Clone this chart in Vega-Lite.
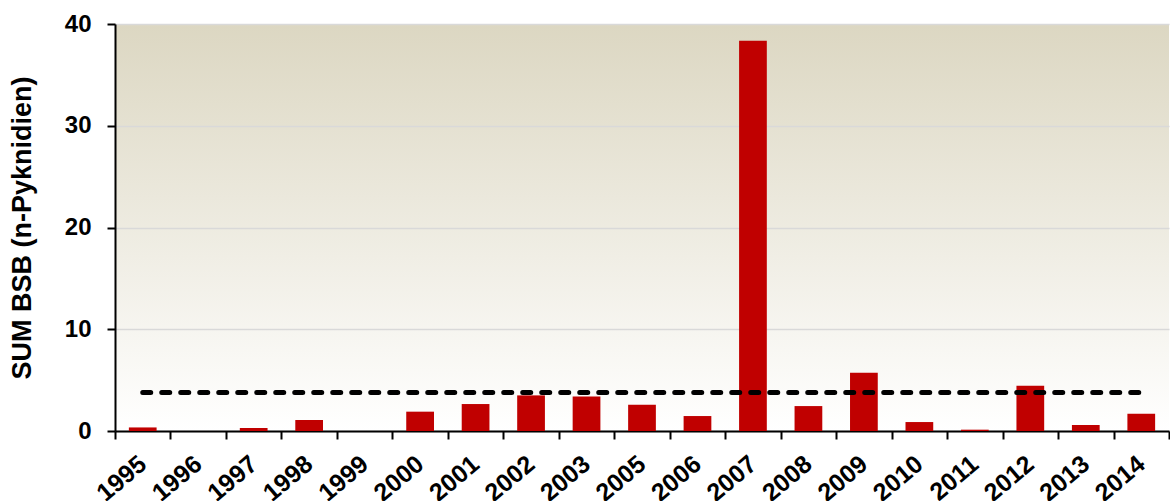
{
  "$schema": "https://vega.github.io/schema/vega-lite/v6.json",
  "autosize": "none",
  "width": 1054,
  "height": 407,
  "padding": {"left": 115, "top": 24, "right": 1, "bottom": 70},
  "background": "#FFFFFF",
  "view": {
    "stroke": null,
    "fill": {
      "gradient": "linear",
      "x1": 0, "y1": 0, "x2": 0, "y2": 1,
      "stops": [
        {"offset": 0, "color": "#DCD7C2"},
        {"offset": 1, "color": "#FFFFFF"}
      ]
    }
  },
  "data": {
    "values": [
      {"Jahr": "1995", "BSB": 0.35},
      {"Jahr": "1996", "BSB": 0},
      {"Jahr": "1997", "BSB": 0.3},
      {"Jahr": "1998", "BSB": 1.08},
      {"Jahr": "1999", "BSB": 0},
      {"Jahr": "2000", "BSB": 1.9},
      {"Jahr": "2001", "BSB": 2.65},
      {"Jahr": "2002", "BSB": 3.5},
      {"Jahr": "2003", "BSB": 3.4},
      {"Jahr": "2005", "BSB": 2.58},
      {"Jahr": "2006", "BSB": 1.47},
      {"Jahr": "2007", "BSB": 38.36},
      {"Jahr": "2008", "BSB": 2.45},
      {"Jahr": "2009", "BSB": 5.72},
      {"Jahr": "2010", "BSB": 0.88},
      {"Jahr": "2011", "BSB": 0.13},
      {"Jahr": "2012", "BSB": 4.44},
      {"Jahr": "2013", "BSB": 0.59},
      {"Jahr": "2014", "BSB": 1.7}
    ]
  },
  "layer": [
    {
      "mark": {"type": "bar", "color": "#C00000", "width": {"band": 0.5}},
      "encoding": {
        "x": {
          "field": "Jahr",
          "type": "nominal",
          "sort": null,
          "scale": {"paddingInner": 0, "paddingOuter": 0},
          "axis": {
            "title": null,
            "tickBand": "extent",
            "labelAngle": -40,
            "labelAlign": "right",
            "labelBaseline": "top",
            "labelFont": "Liberation Sans",
            "labelFontWeight": "bold",
            "labelFontSize": 25,
            "labelColor": "#000000",
            "labelPadding": 12,
            "labelOffset": -8,
            "labelLimit": 300,
            "labelOverlap": false,
            "tickColor": "#000000",
            "tickSize": 8,
            "tickWidth": 2,
            "domainColor": "#000000",
            "domainWidth": 2,
            "grid": false
          }
        },
        "y": {
          "field": "BSB",
          "type": "quantitative",
          "scale": {"domain": [0, 40], "nice": false},
          "axis": {
            "title": "SUM BSB (n-Pyknidien)",
            "titleFont": "Liberation Sans",
            "titleFontWeight": "bold",
            "titleFontSize": 27,
            "titleColor": "#000000",
            "titlePadding": 28,
            "values": [0, 10, 20, 30, 40],
            "labelFont": "Liberation Sans",
            "labelFontWeight": "bold",
            "labelFontSize": 24,
            "labelColor": "#000000",
            "labelPadding": 16,
            "tickColor": "#000000",
            "tickSize": 8,
            "tickWidth": 2,
            "domainColor": "#000000",
            "domainWidth": 2,
            "grid": true,
            "gridColor": "#D9D9D9",
            "gridWidth": 1.5
          }
        }
      }
    },
    {
      "mark": {"type": "line", "color": "#000000", "strokeWidth": 5, "strokeDash": [8, 11], "strokeCap": "round"},
      "encoding": {
        "x": {"field": "Jahr", "type": "nominal", "sort": null},
        "y": {"datum": 3.78, "type": "quantitative"}
      }
    }
  ]
}
